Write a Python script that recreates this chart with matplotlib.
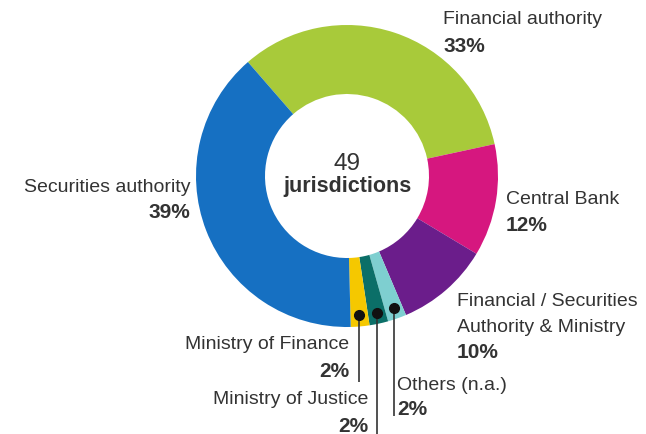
import matplotlib
matplotlib.use("Agg")
import matplotlib.pyplot as plt
import numpy as np

# ---- data ----
categories = ["Financial authority", "Central Bank",
              "Financial / Securities\nAuthority & Ministry",
              "Others (n.a.)", "Ministry of Justice", "Ministry of Finance",
              "Securities authority"]
values = [33, 12, 10, 2, 2, 2, 39]
colors = ["#A8CA3A", "#D6177F", "#6B1D8B", "#7ECFD0", "#0B6F68", "#F5C800", "#1670C2"]
center_label = ["49", "jurisdictions"]

W, H = 646, 435
plt.rcParams['font.family'] = ['Liberation Sans', 'DejaVu Sans']
fig = plt.figure(figsize=(W / 100, H / 100), dpi=100)
ax = fig.add_axes([0, 0, 1, 1])

cx, cy = 347, H - 177
R, r_in = 151, 82
start = 131
wedges, _ = ax.pie(values, colors=colors, startangle=start, counterclock=False,
                   radius=R, center=(cx, cy),
                   wedgeprops=dict(width=R - r_in, edgecolor='none'))
ax.set_xlim(0, W)
ax.set_ylim(0, H)
ax.set_aspect('equal')
ax.axis('off')

txt = "#333333"
def Y(y):
    return H - y

# center
ax.text(cx, Y(164), center_label[0], ha='center', va='center', fontsize=17.5, color=txt)
ax.text(cx, Y(187), center_label[1], ha='center', va='center', fontsize=15.5,
        fontweight='bold', color=txt)

fs = 14
fsb = 15
def label(x, y, name, pct, ha, gap=26):
    lines = name.split("\n")
    for k, ln in enumerate(lines):
        ax.text(x, Y(y + k * 26), ln, ha=ha, va='center', fontsize=fs, color=txt)
    ax.text(x, Y(y + (len(lines) - 1) * 26 + gap), pct, ha=ha, va='center',
            fontsize=fsb, fontweight='bold', color=txt)

label(443, 20, categories[0], f"{values[0]}%", 'left')
label(506, 200, categories[1], f"{values[1]}%", 'left')
label(457, 302, categories[2], f"{values[2]}%", 'left', gap=25)
label(190, 188, categories[6], f"{values[6]}%", 'right', gap=25)
label(349, 345, categories[5], f"{values[5]}%", 'right', gap=27)
label(368, 400, categories[4], f"{values[4]}%", 'right', gap=27)
label(397, 386, categories[3], f"{values[3]}%", 'left', gap=24)

# dots and leader lines for small slices
cum = np.cumsum([0] + values)
line_ends = {3: 417, 4: 435, 5: 383}
for i, yend in line_ends.items():
    mid = start - (cum[i] + values[i] / 2) / sum(values) * 360
    a = np.deg2rad(mid)
    dx, dy = cx + 140 * np.cos(a), cy + 140 * np.sin(a)
    ax.plot([dx, dx], [dy, Y(yend)], color="#333333", lw=1.2, solid_capstyle='butt')
    ax.plot(dx, dy, 'o', color="#111111", ms=7)

fig.savefig("out.png", dpi=100, facecolor='white')
